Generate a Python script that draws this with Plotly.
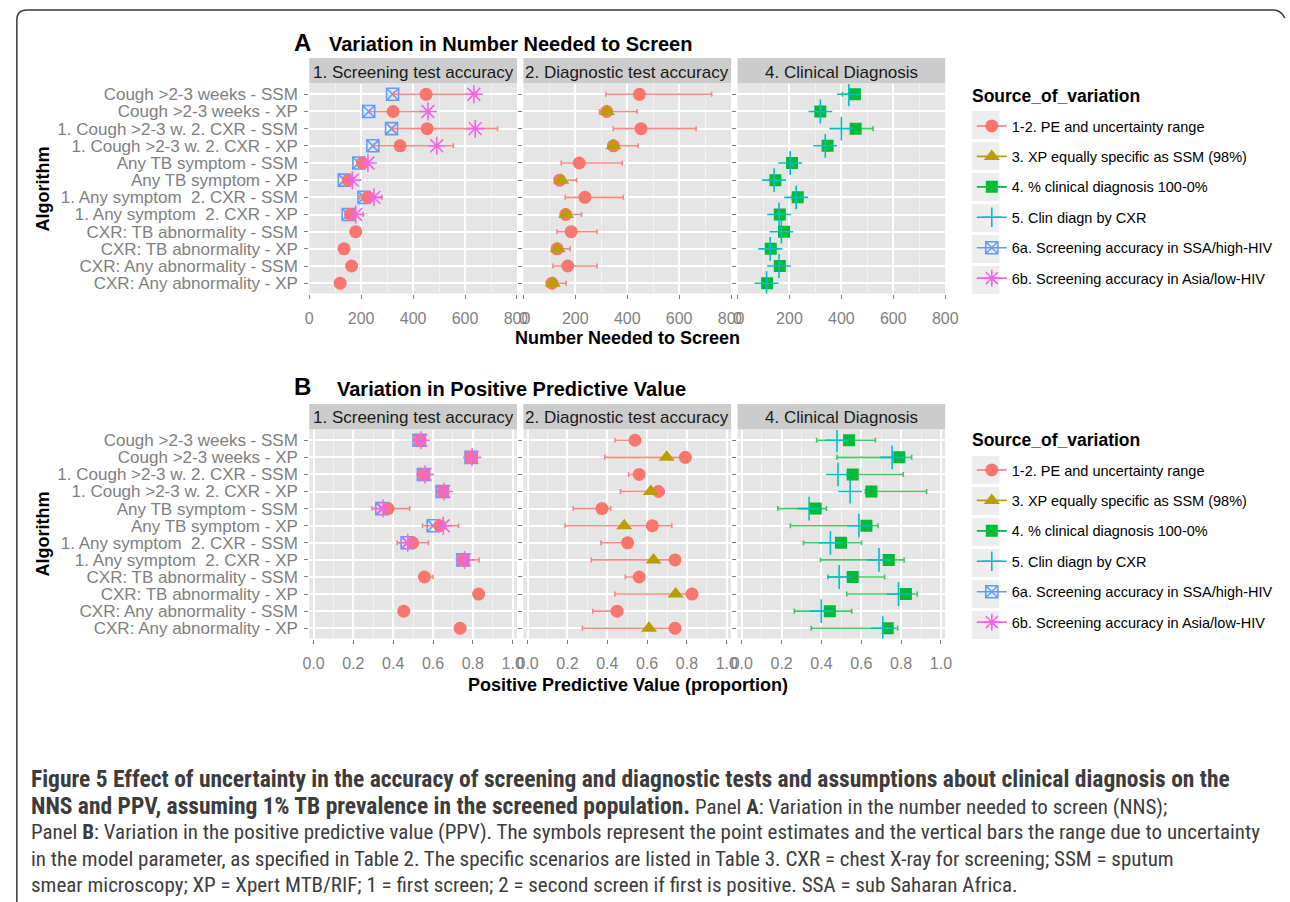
import plotly.graph_objects as go

W, H = 1290, 902
def px(x): return x / W
def py(y): return 1 - y / H

categories = [
    "Cough >2-3 weeks - SSM",
    "Cough >2-3 weeks - XP",
    "1. Cough >2-3 w. 2. CXR - SSM",
    "1. Cough >2-3 w. 2. CXR - XP",
    "Any TB symptom - SSM",
    "Any TB symptom - XP",
    "1. Any symptom  2. CXR - SSM",
    "1. Any symptom  2. CXR - XP",
    "CXR: TB abnormality - SSM",
    "CXR: TB abnormality - XP",
    "CXR: Any abnormality - SSM",
    "CXR: Any abnormality - XP",
]
facet_labels = ["1. Screening test accuracy", "2. Diagnostic test accuracy", "4. Clinical Diagnosis"]
source_labels = [
    "1-2. PE and uncertainty range",
    "3. XP equally specific as SSM (98%)",
    "4. % clinical diagnosis 100-0%",
    "5. Clin diagn by CXR",
    "6a. Screening accuracy in SSA/high-HIV",
    "6b. Screening accuracy in Asia/low-HIV",
]
nns_ticks = [0, 200, 400, 600, 800]
ppv_ticks = [0.0, 0.2, 0.4, 0.6, 0.8, 1.0]
ppv_ticktext = ["0.0", "0.2", "0.4", "0.6", "0.8", "1.0"]

# ---------- Panel A: NNS ----------
# facet 1: screening test accuracy
nns_scr_pe = [450, 323, 454, 350, 205, 150, 226, 159, 179, 134, 163, 119]
nns_scr_lo = [325, 232, 320, 248, 190, 135, 195, 148, 179, 134, 163, 119]
nns_scr_hi = [645, 458, 725, 555, 228, 168, 279, 207, 179, 134, 163, 119]
nns_scr_6a = [321, 229, 317, 245, 191, 135, 211, 150, None, None, None, None]
nns_scr_6b = [634, 457, 639, 491, 226, 166, 249, 179, None, None, None, None]
# facet 2: diagnostic test accuracy
nns_dx_pe = [447, 321, 453, 347, 215, 140, 237, 163, 184, 130, 171, 110]
nns_dx_lo = [318, 293, 346, 325, 146, 133, 161, 146, 130, 117, 114, 98]
nns_dx_hi = [725, 438, 665, 442, 381, 205, 385, 224, 284, 180, 284, 165]
nns_dx_xp98 = [None, 322, None, 347, None, 146, None, 165, None, 132, None, 114]
# facet 3: clinical diagnosis
nns_cd_4 = [452, 319, 455, 347, 210, 146, 232, 163, 179, 128, 163, 114]
nns_cd_lo = [404, 310, 450, 340, 200, 140, 210, 158, 170, 124, 158, 110]
nns_cd_hi = [460, 325, 522, 352, 215, 150, 238, 167, 182, 131, 166, 117]
nns_cd_5 = [429, 319, 400, 338, 203, 141, 226, 160, 169, 126, 160, 112]

# ---------- Panel B: PPV ----------
ppv_scr_pe = [0.535, 0.791, 0.555, 0.651, 0.374, 0.634, 0.498, 0.753, 0.557, 0.829, 0.453, 0.736]
ppv_scr_lo = [0.530, 0.788, 0.550, 0.646, 0.293, 0.547, 0.420, 0.740, 0.550, 0.829, 0.453, 0.736]
ppv_scr_hi = [0.540, 0.796, 0.560, 0.655, 0.483, 0.728, 0.577, 0.832, 0.600, 0.829, 0.453, 0.736]
ppv_scr_6a = [0.530, 0.791, 0.552, 0.646, 0.343, 0.601, 0.470, 0.750, None, None, None, None]
ppv_scr_6b = [0.539, 0.796, 0.560, 0.654, 0.349, 0.651, 0.473, 0.758, None, None, None, None]

ppv_dx_pe = [0.539, 0.792, 0.560, 0.657, 0.373, 0.626, 0.502, 0.740, 0.560, 0.825, 0.449, 0.740]
ppv_dx_lo = [0.438, 0.387, 0.507, 0.466, 0.229, 0.188, 0.368, 0.319, 0.490, 0.438, 0.327, 0.275]
ppv_dx_hi = [0.539, 0.792, 0.560, 0.657, 0.417, 0.724, 0.502, 0.740, 0.560, 0.825, 0.449, 0.740]
ppv_dx_xp98 = [None, 0.698, None, 0.618, None, 0.485, None, 0.632, None, 0.743, None, 0.609]

ppv_cd_4 = [0.539, 0.791, 0.557, 0.651, 0.371, 0.626, 0.498, 0.738, 0.557, 0.824, 0.442, 0.733]
ppv_cd_lo = [0.376, 0.478, 0.530, 0.620, 0.181, 0.244, 0.310, 0.395, 0.432, 0.527, 0.264, 0.349]
ppv_cd_hi = [0.671, 0.853, 0.811, 0.928, 0.425, 0.684, 0.601, 0.815, 0.717, 0.881, 0.552, 0.783]
ppv_cd_5 = [0.478, 0.755, 0.483, 0.544, 0.338, 0.588, 0.445, 0.689, 0.489, 0.787, 0.399, 0.708]

# ---------- styles ----------
RED, OLIVE, GREEN, CYAN, BLUE, PINK = "#F8766D", "#B79F00", "#00BA38", "#00BFC4", "#619CFF", "#F564E3"
series_style = [
    dict(symbol="circle", color=RED, size=13, lw=0),
    dict(symbol="triangle-up", color=OLIVE, size=14, lw=0),
    dict(symbol="square", color=GREEN, size=12, lw=0),
    dict(symbol="cross-thin-open", color=CYAN, size=17, lw=1.6),
    dict(symbol="square-x-open", color=BLUE, size=12, lw=1.6),
    dict(symbol="asterisk-open", color=PINK, size=15, lw=1.6),
]
FONT = "Liberation Sans, Arial, Helvetica, sans-serif"
GREY50 = "#7F7F7F"

fig = go.Figure()

def add_points(ax, vals, style_idx, lo=None, hi=None, ecolor=None):
    st = series_style[style_idx]
    xs, ys, ep, em = [], [], [], []
    for i, v in enumerate(vals):
        if v is None:
            continue
        xs.append(v)
        ys.append(categories[i])
        if lo is not None:
            ep.append(hi[i] - v)
            em.append(v - lo[i])
    tr = dict(
        x=xs, y=ys, mode="markers", showlegend=False, hoverinfo="x+y",
        xaxis=f"x{ax}", yaxis=f"y{ax}",
        marker=dict(symbol=st["symbol"], color=st["color"], size=st["size"],
                    line=dict(color=st["color"], width=st["lw"])),
    )
    if lo is not None:
        tr["error_x"] = dict(type="data", symmetric=False, array=ep, arrayminus=em,
                             color=ecolor, thickness=1.6, width=2.5)
    fig.add_trace(go.Scatter(**tr))

ERR_RED = "rgba(248,118,109,0.85)"
ERR_GREEN = "rgba(0,186,56,0.75)"

# Panel A
add_points(1, nns_scr_6a, 4)
add_points(1, nns_scr_pe, 0, nns_scr_lo, nns_scr_hi, ERR_RED)
add_points(1, nns_scr_6b, 5)
add_points(2, nns_dx_pe, 0, nns_dx_lo, nns_dx_hi, ERR_RED)
add_points(2, nns_dx_xp98, 1)
add_points(3, nns_cd_4, 2, nns_cd_lo, nns_cd_hi, ERR_GREEN)
add_points(3, nns_cd_5, 3)
# Panel B
add_points(4, ppv_scr_6a, 4)
add_points(4, ppv_scr_pe, 0, ppv_scr_lo, ppv_scr_hi, ERR_RED)
add_points(4, ppv_scr_6b, 5)
add_points(5, ppv_dx_pe, 0, ppv_dx_lo, ppv_dx_hi, ERR_RED)
add_points(5, ppv_dx_xp98, 1)
add_points(6, ppv_cd_4, 2, ppv_cd_lo, ppv_cd_hi, ERR_GREEN)
add_points(6, ppv_cd_5, 3)

# legend entries (one legend per panel)
for leg, ax in (("legend", 1), ("legend2", 4)):
    for k, lab in enumerate(source_labels):
        st = series_style[k]
        fig.add_trace(go.Scatter(
            x=[None], y=[None], mode="lines+markers", name=lab,
            legend=leg, legendgroup=f"{leg}_{k}", xaxis=f"x{ax}", yaxis=f"y{ax}",
            line=dict(color=st["color"], width=1.6),
            marker=dict(symbol=st["symbol"], color=st["color"], size=min(st["size"], 14),
                        line=dict(color=st["color"], width=st["lw"])),
        ))

# ---------- axes ----------
xdom = [(307, 518), (524.5, 735.5), (742, 953)]
ydoms = [(84, 293.5), (430, 638.5)]
layout = {}
for p in range(2):
    for f in range(3):
        i = p * 3 + f + 1
        a, b = xdom[f]
        ya, yb = ydoms[p]
        if p == 0:
            xr, tv, tt, mdt = [0, 800], nns_ticks, [str(t) for t in nns_ticks], 100
        else:
            xr, tv, tt, mdt = [-0.0215, 1.0215], ppv_ticks, ppv_ticktext, 0.1
        layout[f"xaxis{i}"] = dict(
            domain=[px(a), px(b)], anchor=f"y{i}", range=xr,
            tickmode="array", tickvals=tv, ticktext=tt,
            showgrid=True, gridcolor="white", gridwidth=1.5,
            minor=dict(tick0=mdt, dtick=2 * mdt, showgrid=True, gridcolor="#F2F2F2", gridwidth=1, ticks=""),
            ticks="outside", ticklen=4, tickcolor=GREY50, tickwidth=1,
            tickfont=dict(family=FONT, size=16, color=GREY50), ticklabelstandoff=6,
            zeroline=False, showline=False, fixedrange=True,
        )
        layout[f"yaxis{i}"] = dict(
            domain=[py(yb), py(ya)], anchor=f"x{i}", type="category",
            categoryorder="array", categoryarray=categories, range=[11.6, -0.6],
            tickmode="array", tickvals=categories, ticktext=categories,
            showgrid=True, gridcolor="white", gridwidth=1.5,
            ticks="outside", ticklen=4, tickcolor=GREY50, tickwidth=1,
            showticklabels=(f == 0),
            tickfont=dict(family=FONT, size=17, color=GREY50), ticklabelstandoff=3,
            zeroline=False, showline=False, fixedrange=True,
        )
fig.update_layout(**layout)

# ---------- strips, border, legend key boxes ----------
shapes = []
strip_y = [(58, 83.5), (404, 429.5)]
for p in range(2):
    for f in range(3):
        a, b = xdom[f]
        s0, s1 = strip_y[p]
        shapes.append(dict(type="rect", xref="paper", yref="paper",
                           x0=px(a), x1=px(b), y0=py(s1), y1=py(s0),
                           fillcolor="#CCCCCC", line=dict(width=0), layer="below"))
key_centers = ([125, 156, 187, 218, 249, 280], [470, 501, 532, 563, 594, 625])
for centers in key_centers:
    for c in centers:
        shapes.append(dict(type="rect", xref="paper", yref="paper",
                           x0=px(980), x1=px(1008), y0=py(c + 14), y1=py(c - 14),
                           fillcolor="#EDEDED", line=dict(width=0), layer="below"))
border = (f"M {px(10)},{py(960)} L {px(10)},{py(20)} Q {px(10)},{py(10)} {px(20)},{py(10)} "
          f"L {px(1286)},{py(10)} Q {px(1294)},{py(10)} {px(1298)},{py(18)}")
shapes.append(dict(type="path", xref="paper", yref="paper", path=border,
                   line=dict(color="#3A3A3A", width=1.5)))

# ---------- text annotations ----------
ann = []
def text(x, y, s, size, color="black", bold=False, xanchor="left", angle=0, family=FONT):
    ann.append(dict(x=px(x), y=py(y), xref="paper", yref="paper", showarrow=False,
                    text=f"<b>{s}</b>" if bold else s, xanchor=xanchor, yanchor="middle",
                    textangle=angle, font=dict(family=family, size=size, color=color)))

text(289, 43, "A", 24, bold=True)
text(325, 44, "Variation in Number Needed to Screen", 20, bold=True)
text(289, 387, "B", 24, bold=True)
text(333, 389, "Variation in Positive Predictive Value", 20, bold=True)
for p in range(2):
    for f in range(3):
        a, b = xdom[f]
        text((a + b) / 2, 72 if p == 0 else 417.5, facet_labels[f], 17, color="#1A1A1A", xanchor="center")
text(630, 338, "Number Needed to Screen", 18, bold=True, xanchor="center")
text(631, 685, "Positive Predictive Value (proportion)", 18, bold=True, xanchor="center")
text(37, 189, "Algorithm", 18, bold=True, xanchor="center", angle=-90)
text(37, 534, "Algorithm", 18, bold=True, xanchor="center", angle=-90)
text(978, 96, "Source_of_variation", 17.5, bold=True)
text(978, 440, "Source_of_variation", 17.5, bold=True)

CAP = "Liberation Sans Narrow, Arial Narrow, Roboto Condensed, DejaVu Sans Condensed, sans-serif"
def B(s): return f'<span style="font-size:23.5px"><b>{s}</b></span>'
caption_lines = [
    B("Figure 5 Effect of uncertainty in the accuracy of screening and diagnostic tests and assumptions about clinical diagnosis on the"),
    B("NNS and PPV, assuming 1% TB prevalence in the screened population.") + " Panel <b>A</b>: Variation in the number needed to screen (NNS);",
    "Panel <b>B</b>: Variation in the positive predictive value (PPV). The symbols represent the point estimates and the vertical bars the range due to uncertainty",
    "in the model parameter, as specified in Table 2. The specific scenarios are listed in Table 3. CXR = chest X-ray for screening; SSM = sputum",
    "smear microscopy; XP = Xpert MTB/RIF; 1 = first screen; 2 = second screen if first is positive. SSA = sub Saharan Africa.",
]
for k, line in enumerate(caption_lines):
    ann.append(dict(x=px(22), y=py(779 + k * 26.5), xref="paper", yref="paper", showarrow=False,
                    text=line, xanchor="left", yanchor="middle",
                    font=dict(family=CAP, size=21, color="#3C3C3C")))

legend_common = dict(
    xanchor="left", yanchor="top", bgcolor="rgba(0,0,0,0)",
    font=dict(family=FONT, size=14.5, color="black"),
    tracegroupgap=8.6, itemsizing="trace",
)
fig.update_layout(
    width=W, height=H, margin=dict(l=0, r=0, t=0, b=0),
    paper_bgcolor="white", plot_bgcolor="#E5E5E5",
    shapes=shapes, annotations=ann,
    legend=dict(x=px(980), y=py(110), **legend_common),
    legend2=dict(x=px(980), y=py(454), **legend_common),
)

fig.write_html("out.html", config={"displayModeBar": False},
               post_script="document.body.style.margin='0';document.body.style.overflow='hidden';")
